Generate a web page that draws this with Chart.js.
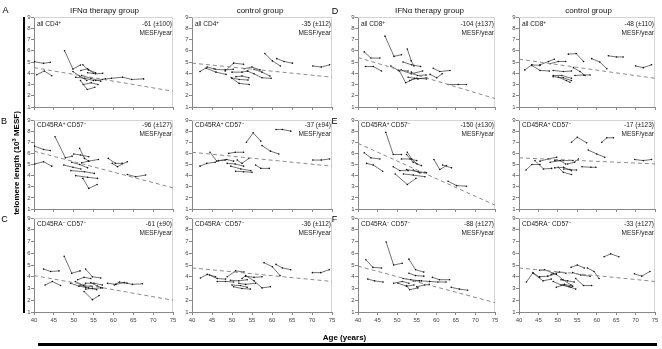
<!DOCTYPE html>
<html>
<head>
<meta charset="utf-8">
<script src="https://cdn.jsdelivr.net/npm/chart.js@4.4.0/dist/chart.umd.min.js"></script>
<style>
body{margin:0;background:#fff;width:662px;height:349px;position:relative;overflow:hidden;font-family:"Liberation Sans",Arial,sans-serif;}
canvas{position:absolute;}
.t{position:absolute;white-space:nowrap;line-height:1;color:#222;}
.t sup{font-size:70%;line-height:0;vertical-align:0.45em;}
.bar{position:absolute;background:#000;}
</style>
</head>
<body>
<script>
// axis values
const ages = [40, 45, 50, 55, 60, 65, 70, 75];
const levels = [1, 2, 3, 4, 5, 6, 7, 8, 9];

// each patient: [age, telomere length] pairs
const ifnCD4 = [
  [[40.1,5.03],[42.4,4.88],[44.1,4.97]],
  [[40.7,3.87],[42.6,4.2],[44.5,3.78]],
  [[47.7,6.0],[49.8,4.37],[51.7,4.73]],
  [[49.8,4.15],[51.5,3.75],[53.3,3.35]],
  [[52.3,4.75],[53.7,4.3],[55.5,4.05]],
  [[51.8,4.25],[53.5,4.4],[55,4.0]],
  [[53.5,4.05],[55.5,3.95],[57.3,4.0]],
  [[50.5,3.65],[52.8,3.55],[55,3.35]],
  [[51.7,3.35],[53.4,2.55],[55.3,2.75]],
  [[52.4,3.0],[54.4,3.15],[56.1,3.0]],
  [[52,3.8],[54.3,3.55],[56.8,3.3]],
  [[57.3,3.45],[59.5,3.55],[62.3,3.65],[64.6,3.45],[67.6,3.5]],
  [[55.5,3.35],[58,3.5]]
];
const ctrlCD4 = [
  [[42.0,4.15],[43.8,4.55],[45.5,4.4]],
  [[43.5,4.45],[46,4.1],[48.5,3.9]],
  [[45.8,4.35],[48.3,4.3],[50.3,4.35]],
  [[48.3,4.2],[50.4,4.9],[52.9,4.8]],
  [[50,4.1],[52.5,4.1],[54,4.2]],
  [[49.8,3.6],[51.8,3.45],[54,3.4]],
  [[50,3.55],[51.8,3.1],[54.3,3.0]],
  [[51,3.7],[52.5,3.75],[54.2,3.6]],
  [[53,4.4],[55,4.55],[57,4.3]],
  [[53.8,4.2],[55.5,3.95],[57.5,3.6],[59.8,3.55]],
  [[55.5,4.35],[57.5,4.1],[59.5,3.75]],
  [[58.2,5.75],[60.1,5.1],[62.1,4.65]],
  [[61.2,5.3],[63,5.05],[65.1,4.9]],
  [[70.2,4.65],[72.3,4.55],[74.4,4.75]]
];
const ifnCD8 = [
  [[41.6,5.9],[43.3,5.35],[45.6,5.35]],
  [[41.9,4.6],[43.9,4.6],[46.0,4.2]],
  [[46.9,7.3],[49.2,5.5],[51.1,5.65]],
  [[48.4,4.65],[50.3,4.25],[52.8,4.2]],
  [[50.6,4.2],[52.2,3.15],[54.5,3.55]],
  [[52.6,6.15],[53.6,5.1],[54.3,4.65]],
  [[51.5,5.0],[53.7,4.75],[56,4.6]],
  [[51.0,4.3],[53.6,3.95],[56.5,4.2]],
  [[53.6,4.1],[55.2,3.8],[57.4,3.85]],
  [[52.8,3.65],[55.3,3.5],[57.5,3.6]],
  [[53.2,3.35],[55,3.55],[57.5,3.5]],
  [[59.2,4.45],[60.9,4.15],[63.5,4.25]],
  [[58.4,3.9],[60.1,3.6],[61.5,3.95]],
  [[63.0,3.0],[65.6,3.0],[67.7,3.0]]
];
const ctrlCD8 = [
  [[41.5,4.3],[43.3,4.75],[45.4,4.7]],
  [[43.3,4.7],[45.4,4.25],[47.8,4.2]],
  [[45.4,4.75],[47.6,5.05],[49.1,5.25]],
  [[48,4.85],[50.1,5.05],[52,5.05]],
  [[48.8,4.25],[51.4,4.15],[53.5,4.2]],
  [[48.8,3.8],[51,3.8],[53.5,3.55]],
  [[48.8,3.7],[51.4,3.6],[53.5,3.35]],
  [[50.1,3.65],[52.2,3.35],[53.1,3.2]],
  [[52.7,5.7],[54.7,5.75],[56.6,5.05]],
  [[54,4.5],[55.7,4.15],[57,3.8]],
  [[54.4,3.8],[56.6,3.85],[58.3,3.85]],
  [[58.7,5.3],[60.8,5.0],[62.6,4.4]],
  [[63,5.55],[65.1,5.45],[66.8,5.45]],
  [[70,4.65],[72,4.5],[74.1,4.75]]
];
const ifnNaiveCD4 = [
  [[40.1,6.65],[42.4,6.35],[44.1,6.25]],
  [[40.2,5.05],[42.4,5.25],[44.5,4.85]],
  [[45.3,7.5],[47.9,5.6],[49.6,5.75]],
  [[47.5,4.95],[49.8,4.75],[51.8,4.6]],
  [[49.5,5.2],[51.5,5.0],[53.5,4.7]],
  [[50,5.95],[51.7,5.85],[53.8,5.7]],
  [[51.5,6.45],[52.7,5.55],[53.8,5.3]],
  [[52,5.15],[53.7,5.3],[56.2,5.45]],
  [[49.3,4.45],[52.7,4.35],[55.2,4.2]],
  [[50.5,4.0],[53.5,3.85],[56,3.75]],
  [[52.3,3.75],[53.8,2.85],[55.9,3.2]],
  [[58.7,5.55],[60.5,5.1],[62.2,5.1]],
  [[59.7,5.1],[61,4.8],[63.5,5.25]],
  [[63.5,4.1],[65.6,3.9],[68.1,4.05]]
];
const ctrlNaiveCD4 = [
  [[42,4.85],[43.7,5.1],[45.8,5.2]],
  [[44.5,6.1],[46.2,5.3],[48.3,5.4]],
  [[46.6,5.35],[48.7,5.45],[50.4,5.3]],
  [[49.2,6.0],[50.8,6.1],[52.9,6.1]],
  [[48.8,5.1],[50.8,5.05],[52.9,4.85]],
  [[49.7,4.85],[52.2,4.6],[54.7,4.45]],
  [[51.3,5.4],[52.5,5.1],[54.2,5.55]],
  [[50.9,4.4],[52.9,4.35],[55,4.3]],
  [[53.6,7.0],[55.3,7.85],[57.2,7.1]],
  [[57.5,6.7],[59.6,6.2],[61.7,5.95]],
  [[61,8.15],[62.6,8.15],[64.7,8.0]],
  [[55.9,4.95],[57.2,4.65],[59.3,4.65]],
  [[70.2,5.4],[72.3,5.4],[74.4,5.5]]
];
const ifnNaiveCD8 = [
  [[41.6,6.05],[43.3,5.6],[45.6,5.5]],
  [[42.2,5.1],[43.9,4.95],[46.3,4.4]],
  [[47.1,7.9],[49,5.9],[51.1,5.9]],
  [[49,4.8],[50.7,4.45],[52.8,4.45]],
  [[49.5,4.15],[52.6,3.2],[54.8,3.75]],
  [[51.1,5.5],[53.3,5.5],[55,5.35]],
  [[52.6,6.1],[53.7,5.5],[55.1,5.05]],
  [[52.4,5.9],[54.1,5.2],[56.2,4.9]],
  [[51.6,4.15],[54.1,4.05],[57.1,3.9]],
  [[52.4,4.55],[55.4,4.35],[57.5,4.25]],
  [[54.1,4.5],[55.8,4.25],[57.1,4.3]],
  [[59.4,5.45],[60.9,4.55],[62.6,4.9]],
  [[61.6,4.95],[63.9,4.7]],
  [[63,3.5],[65.2,3.1],[67.7,3.05]]
];
const ctrlNaiveCD8 = [
  [[41.8,4.5],[43.3,5.0],[45.4,5.0]],
  [[44.1,5.35],[46.3,4.6],[48.4,4.65]],
  [[45.4,5.3],[47.5,5.5],[49.7,5.65]],
  [[48,5.2],[50.6,5.35],[52,5.05]],
  [[49.2,4.7],[51.5,4.75],[53.5,4.45]],
  [[49.2,5.35],[51.4,5.35],[53.9,5.35]],
  [[50.1,4.75],[51.4,4.3],[53.5,4.1]],
  [[51.5,4.6],[53.1,4.55],[54.8,4.5]],
  [[53.5,7.0],[55,7.45],[57.4,6.95]],
  [[57.8,6.3],[60,5.95],[62.1,5.65]],
  [[61.3,7.0],[62.6,7.4],[64.3,7.4]],
  [[56.2,4.8],[58.5,4.75],[59.8,4.75]],
  [[69.8,5.45],[72,5.35],[74.1,5.45]],
  [[52.5,5.05],[54.3,5.2],[55.3,5.5]]
];
const ifnMemCD4 = [
  [[42.4,4.65],[44.2,4.45],[46.3,4.5]],
  [[42.8,3.3],[44.6,3.6],[46.7,3.25]],
  [[47.6,5.75],[49.5,4.3],[51.6,4.5]],
  [[49.2,3.45],[51.3,3.2],[53,3.1]],
  [[50.4,3.6],[52.5,3.25],[54.7,3.15]],
  [[51,3.75],[52.6,3.95],[54.3,3.85]],
  [[53,4.65],[54.7,4.0],[56.8,3.9]],
  [[51.6,3.3],[53.7,3.05],[55.8,2.9]],
  [[53,2.95],[54.7,3.0],[56.8,3.05]],
  [[52.6,2.75],[54.7,2.05],[56.4,2.4]],
  [[53,3.45],[55.1,3.45],[57.2,3.3]],
  [[58.5,3.45],[60.6,3.35],[62.7,3.5],[64.8,3.35],[67.3,3.4]],
  [[60.2,3.3],[61.5,3.55],[63.5,3.45]],
  [[54.3,3.5],[56,3.2],[57.2,3.05]]
];
const ctrlMemCD4 = [
  [[42.1,3.9],[43.8,4.2],[45.9,4.0]],
  [[44.4,4.15],[46.3,3.85],[48.4,3.8]],
  [[46.3,3.6],[48.4,3.6],[50.4,3.55]],
  [[48.8,4.0],[50.9,4.5],[53,4.4]],
  [[49.6,3.7],[51.7,3.65],[53.8,3.75]],
  [[50,3.3],[52.1,3.25],[53.8,3.1]],
  [[50.4,3.15],[52.5,3.0],[54.6,2.95]],
  [[53.4,4.05],[55.5,3.95],[57.5,4.0]],
  [[52.5,3.85],[53.4,4.1],[55.5,3.65],[57.5,3.05],[59.6,3.15]],
  [[58,5.2],[60.1,4.85],[62,4.1]],
  [[61,5.05],[62.6,4.75],[64.7,4.6]],
  [[70.1,4.35],[72.2,4.35],[74.3,4.6]],
  [[51.7,3.45],[53.4,3.35],[55.9,3.45]]
];
const ifnMemCD8 = [
  [[42,5.45],[43.8,4.8],[46,4.75]],
  [[42.5,3.8],[44.2,3.65],[46.4,3.55]],
  [[47.2,6.95],[49.1,5.0],[51.3,5.15]],
  [[49.1,3.45],[51.3,3.6],[53,3.45]],
  [[50.2,3.45],[52.4,3.2],[54.3,3.3]],
  [[53,5.5],[54.7,4.6],[56.8,4.4]],
  [[53,4.3],[54.7,4.1],[56.8,4.05]],
  [[51.5,3.85],[53.5,3.75],[55.7,3.65]],
  [[52.4,3.25],[53.2,2.9],[55.3,3.05]],
  [[54.1,3.65],[56.2,3.65],[58.3,3.6]],
  [[55,3.15],[57,3.3],[58.2,3.35]],
  [[59,3.95],[60.8,3.75],[63.4,3.75]],
  [[58.3,3.6],[60.4,3.55],[62.5,3.55]],
  [[63.8,3.1],[65.9,2.95],[68,2.85]]
];
const ctrlMemCD8 = [
  [[41.9,3.55],[43.6,4.35],[45.3,3.95]],
  [[43.6,4.3],[46.2,3.65],[48.3,3.8]],
  [[45.3,4.0],[47.4,4.05],[49.6,4.25]],
  [[45.3,4.55],[46.6,4.6],[48.8,4.3]],
  [[48.3,4.2],[50.4,4.4],[52.1,4.3]],
  [[49.6,4.2],[51.3,3.75],[53.4,3.3]],
  [[48.8,3.6],[50.8,3.3],[52.9,3.15]],
  [[49.6,3.1],[51.7,3.35],[53.8,3.2]],
  [[50.8,3.75],[52.5,3.65],[54.2,3.55]],
  [[51.3,3.3],[53.4,3.1],[54.6,2.95]],
  [[53.4,4.8],[55,5.0],[56.8,4.75]],
  [[57.6,4.75],[59.3,4.45],[60.6,3.85]],
  [[54.6,3.85],[56.6,3.25],[58.7,3.25]],
  [[53.8,4.35],[55.9,4.15],[58.3,4.05]],
  [[61.9,5.7],[63.6,5.95],[65.7,5.7]],
  [[69.7,4.25],[71.6,4.05],[73.7,4.45]]
];

// regression line values at age 40 and 75
const trendStart = [4.5, 4.9, 5.4, 5.25, 6.2, 6.1, 6.9, 5.6, 4.1, 4.75, 4.9, 4.75];
const trendEnd   = [2.4, 3.65, 1.75, 3.55, 2.9, 4.85, 1.35, 5.05, 2.0, 3.6, 1.8, 3.6];
const rates = ['-61 (\u00b1100)','-35 (\u00b1112)','-104 (\u00b1137)','-48 (\u00b1110)',
               '-96 (\u00b1127)','-37 (\u00b194)','-150 (\u00b1130)','-17 (\u00b1123)',
               '-61 (\u00b190)','-36 (\u00b1112)','-88 (\u00b1127)','-33 (\u00b1127)'];
const cells = ['all CD4<sup>+</sup>','all CD4<sup>+</sup>','all CD8<sup>+</sup>','all CD8<sup>+</sup>',
               'CD45RA<sup>+</sup> CD57<sup>\u2212</sup>','CD45RA<sup>+</sup> CD57<sup>\u2212</sup>','CD45RA<sup>+</sup> CD57<sup>\u2212</sup>','CD45RA<sup>+</sup> CD57<sup>\u2212</sup>',
               'CD45RA<sup>\u2212</sup> CD57<sup>\u2212</sup>','CD45RA<sup>\u2212</sup> CD57<sup>\u2212</sup>','CD45RA<sup>\u2212</sup> CD57<sup>\u2212</sup>','CD45RA<sup>\u2212</sup> CD57<sup>\u2212</sup>'];
const groups = ['IFN\u03b1 therapy group','control group','IFN\u03b1 therapy group','control group'];
const letters = ['A','B','C','D','E','F'];
const segs = [ifnCD4, ctrlCD4, ifnCD8, ctrlCD8, ifnNaiveCD4, ctrlNaiveCD4, ifnNaiveCD8, ctrlNaiveCD8, ifnMemCD4, ctrlMemCD4, ifnMemCD8, ctrlMemCD8];

// layout
const colL = [34, 192, 358, 519], colR = [173, 332, 495, 655];
const rowT = [17, 120, 218], rowB = [107, 209, 312];
const txtOff = [[7, 16], [4.5, 14], [5.5, 15]];

function addText(html, css){
  const d = document.createElement('div');
  d.className = 't';
  d.innerHTML = html;
  Object.assign(d.style, css);
  document.body.appendChild(d);
  return d;
}

const frame = {
  id: 'frame',
  beforeDatasetsDraw(chart){
    const a = chart.chartArea, ctx = chart.ctx;
    ctx.save();
    ctx.strokeStyle = '#d4d4d4';
    ctx.lineWidth = 1;
    ctx.beginPath();
    ctx.moveTo(a.left, a.top + 0.5);
    ctx.lineTo(a.right - 0.5, a.top + 0.5);
    ctx.lineTo(a.right - 0.5, a.bottom);
    ctx.stroke();
    ctx.restore();
  }
};

function panel(i){
  const row = Math.floor(i / 4), col = i % 4;
  const L = colL[col], R = colR[col], T = rowT[row], B = rowB[row];
  const padL = 16, padR = 6, padT = 5, padB = row === 2 ? 14 : 6;
  const w = R - L + padL + padR, h = B - T + padT + padB;
  const c = document.createElement('canvas');
  c.width = w; c.height = h;
  c.style.left = (L - padL) + 'px'; c.style.top = (T - padT) + 'px';
  c.style.width = w + 'px'; c.style.height = h + 'px';
  document.body.appendChild(c);

  const datasets = [{
    data: [{x: ages[0], y: trendStart[i]}, {x: ages[ages.length - 1], y: trendEnd[i]}],
    showLine: true, borderColor: '#8c8c8c', borderWidth: 1, borderDash: [4, 3], pointRadius: 0
  }];
  segs[i].forEach(s => datasets.push({
    data: s.map(q => ({x: q[0], y: q[1]})),
    showLine: true, borderColor: '#333', borderWidth: 0.7,
    pointRadius: 0.8, pointBackgroundColor: '#111', pointBorderWidth: 0
  }));

  const tickFont = {family: '"Liberation Sans", Arial, sans-serif', size: 6};
  new Chart(c, {
    type: 'scatter',
    data: {datasets},
    options: {
      responsive: false, animation: false, events: [],
      layout: {padding: {top: padT, right: padR, bottom: 0, left: 0}},
      plugins: {legend: {display: false}, tooltip: {enabled: false}},
      scales: {
        x: {
          min: ages[0], max: ages[ages.length - 1],
          afterBuildTicks: s => { s.ticks = ages.map(v => ({value: v})); },
          ticks: {display: row === 2, font: tickFont, color: '#444', padding: 1.5, maxRotation: 0, autoSkip: false},
          grid: {drawOnChartArea: false, drawTicks: true, tickLength: 3, color: '#888'},
          border: {color: '#888'},
          afterFit: s => { s.height = padB; }
        },
        y: {
          min: levels[0], max: levels[levels.length - 1],
          afterBuildTicks: s => { s.ticks = levels.map(v => ({value: v})); },
          ticks: {font: tickFont, color: '#444', padding: 0.5, autoSkip: false},
          grid: {drawOnChartArea: false, drawTicks: true, tickLength: 3, color: '#888'},
          border: {color: '#888'},
          afterFit: s => { s.width = padL; }
        }
      }
    },
    plugins: [frame]
  });

  const off = txtOff[row];
  addText(cells[i], {left: (L + 3) + 'px', top: (T + off[0]) + 'px', fontSize: '6.5px', transform: 'translateY(-50%)'});
  addText(rates[i], {right: (662 - R + 1) + 'px', top: (T + off[0]) + 'px', fontSize: '6.5px', transform: 'translateY(-50%)'});
  addText('MESF/year', {right: (662 - R + 1) + 'px', top: (T + off[1]) + 'px', fontSize: '6.5px', transform: 'translateY(-50%)'});
}

for (let i = 0; i < 12; i++) panel(i);

// group titles
const titleX = [104.5, 260, 429.5, 588.5];
groups.forEach((g, k) => addText(g, {left: titleX[k] + 'px', top: '10.5px', fontSize: '8px', transform: 'translate(-50%,-50%)', color: '#111'}));

// panel letters
const letterPos = [[5.5, 10], [4, 120.5], [4.5, 219], [335, 11], [334.5, 121], [334.5, 219]];
letters.forEach((s, k) => addText(s, {left: letterPos[k][0] + 'px', top: letterPos[k][1] + 'px', fontSize: '9px', transform: 'translate(-50%,-50%)', color: '#000'}));

// axis titles
addText('telomere length (10<sup>3</sup> MESF)', {left: '16.5px', top: '163px', fontSize: '8px', fontWeight: 'bold', color: '#000', transform: 'translate(-50%,-50%) rotate(-90deg)'});
addText('Age (years)', {left: '344.5px', top: '338px', fontSize: '8px', fontWeight: 'bold', color: '#000', transform: 'translate(-50%,-50%)'});

// black bars
const vb = document.createElement('div'); vb.className = 'bar';
Object.assign(vb.style, {left: '22.5px', top: '17px', width: '2px', height: '296px'});
document.body.appendChild(vb);
const hb = document.createElement('div'); hb.className = 'bar';
Object.assign(hb.style, {left: '38px', top: '343px', width: '619px', height: '3px'});
document.body.appendChild(hb);
</script>
</body>
</html>
